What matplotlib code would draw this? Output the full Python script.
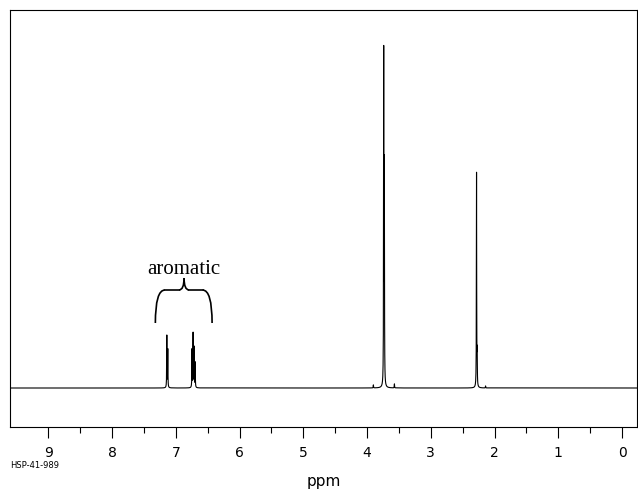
import numpy as np
import matplotlib
matplotlib.use("Agg")
import matplotlib.pyplot as plt
from matplotlib.path import Path
from matplotlib.patches import PathPatch

# peak positions (ppm) and heights (arbitrary units)
peak_ppm = [7.140, 7.125, 6.745, 6.728, 6.712, 6.695, 3.738, 3.728, 2.282, 2.272, 3.90, 3.57, 2.14]
peak_height = [52, 38, 38, 54, 40, 25, 330, 214, 214, 30, 3, 4, 2]
peak_width = 0.0025
tick_values = [9, 8, 7, 6, 5, 4, 3, 2, 1, 0]

x = np.linspace(-0.3, 9.7, 100001)
y = np.zeros_like(x)
for p, h in zip(peak_ppm, peak_height):
    y += h / (1 + ((x - p) / peak_width) ** 2)

fig = plt.figure(figsize=(6.38, 4.91), dpi=100)
ax = fig.add_axes([10/638, 64/491, 627/638, 417/491])
ax.plot(x, y, color="black", lw=0.8)
ax.set_xlim(9.6, -0.235)
ax.set_ylim(-39, 378)
ax.set_yticks([])
ax.set_xticks(tick_values)
ax.set_xticks(np.arange(0.5, 9.0, 1.0), minor=True)
ax.tick_params(axis="x", which="major", direction="out", length=8, width=0.8, labelsize=10, pad=6)
ax.tick_params(axis="x", which="minor", direction="out", length=4, width=0.8)
for s in ax.spines.values():
    s.set_linewidth(0.8)
ax.set_xlabel("ppm", fontsize=11, labelpad=10)

# brace
xl, xm, xr = 7.32, 6.87, 6.43
yt, yb = 98, 65
codes = [Path.MOVETO, Path.CURVE3, Path.CURVE3]
path1 = Path([(xl, yb), (xl, yt), (xl - 0.15, yt)], codes)
path2 = Path([(xr, yb), (xr, yt), (xr + 0.15, yt)], codes)
ax.add_patch(PathPatch(path1, fill=False, lw=1.2))
ax.add_patch(PathPatch(path2, fill=False, lw=1.2))
ax.plot([xl - 0.15, xm + 0.08], [yt, yt], color="black", lw=1.2)
ax.plot([xr + 0.15, xm - 0.08], [yt, yt], color="black", lw=1.2)
path3 = Path([(xm + 0.08, yt), (xm, yt), (xm, yt + 12)], codes)
path4 = Path([(xm - 0.08, yt), (xm, yt), (xm, yt + 12)], codes)
ax.add_patch(PathPatch(path3, fill=False, lw=1.2))
ax.add_patch(PathPatch(path4, fill=False, lw=1.2))
ax.text(xm, 118, "aromatic", ha="center", va="center", fontsize=15, family="Liberation Serif")

fig.text(10/638, 1 - 466/491, "HSP-41-989", fontsize=6, ha="left", va="center")
fig.savefig("out.png", dpi=100)
